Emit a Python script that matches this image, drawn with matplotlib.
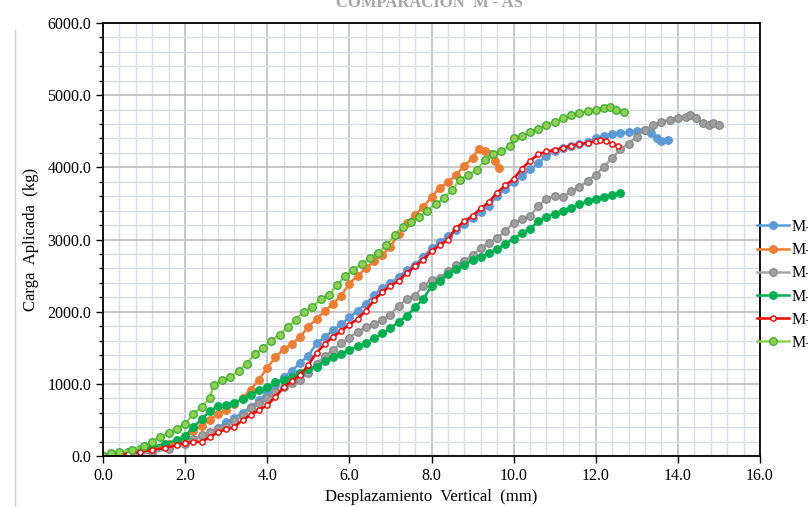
import matplotlib
matplotlib.use("Agg")
import matplotlib.pyplot as plt
from matplotlib.ticker import MultipleLocator, FormatStrFormatter
from matplotlib.lines import Line2D

plt.rcParams['font.family'] = ['Liberation Serif', 'DejaVu Serif']

# datos: desplazamiento (mm) y carga (kg)
m1_x = [0, 0.4, 0.8, 1.2, 1.6, 2.0, 2.4, 2.8, 3.0, 3.2, 3.4, 3.6, 3.8, 4.0, 4.2, 4.4, 4.6, 4.8, 5.0, 5.2,
        5.4, 5.6, 5.8, 6.0, 6.2, 6.4, 6.6, 6.8, 7.0, 7.2, 7.4, 7.6, 7.8, 8.0, 8.2, 8.4, 8.6, 8.8, 9.0, 9.2,
        9.4, 9.6, 9.8, 10.0, 10.2, 10.4, 10.6, 10.8, 11.0, 11.2, 11.4, 11.6, 11.8, 12.0, 12.2, 12.4, 12.6,
        12.8, 13.0, 13.2, 13.35, 13.5, 13.6, 13.75]
m1_y = [0, 10, 30, 70, 120, 190, 280, 390, 470, 530, 600, 680, 770, 880, 990, 1100, 1180, 1290, 1390, 1560,
        1650, 1740, 1830, 1920, 2010, 2110, 2230, 2330, 2400, 2480, 2580, 2650, 2760, 2880, 2960, 3050, 3130,
        3210, 3300, 3380, 3470, 3600, 3700, 3800, 3880, 3970, 4060, 4160, 4220, 4270, 4300, 4320, 4350, 4400,
        4430, 4460, 4480, 4490, 4500, 4520, 4480, 4400, 4360, 4380]

m2_x = [0, 0.4, 0.8, 1.2, 1.6, 2.0, 2.2, 2.4, 2.6, 2.8, 3.0, 3.2, 3.4, 3.6, 3.8, 4.0, 4.2, 4.4, 4.6, 4.8,
        5.0, 5.2, 5.4, 5.6, 5.8, 6.0, 6.2, 6.4, 6.6, 6.8, 7.0, 7.2, 7.4, 7.6, 7.8, 8.0, 8.2, 8.4, 8.6, 8.8,
        9.0, 9.15, 9.3, 9.45, 9.55, 9.65]
m2_y = [0, 10, 40, 90, 160, 270, 340, 420, 500, 580, 640, 720, 810, 920, 1060, 1220, 1370, 1480, 1550, 1650,
        1790, 1900, 2010, 2110, 2220, 2390, 2500, 2600, 2700, 2790, 2900, 3080, 3230, 3340, 3450, 3590, 3720,
        3790, 3900, 4020, 4130, 4260, 4230, 4180, 4090, 3990]

m3_x = [0, 0.4, 0.8, 1.2, 1.6, 2.0, 2.2, 2.4, 2.6, 2.8, 3.0, 3.2, 3.4, 3.6, 3.8, 4.0, 4.2, 4.4, 4.6, 4.8,
        5.0, 5.2, 5.4, 5.6, 5.8, 6.0, 6.2, 6.4, 6.6, 6.8, 7.0, 7.2, 7.4, 7.6, 7.8, 8.0, 8.2, 8.4, 8.6, 8.8,
        9.0, 9.2, 9.4, 9.6, 9.8, 10.0, 10.2, 10.4, 10.6, 10.8, 11.0, 11.2, 11.4, 11.6, 11.8, 12.0, 12.2, 12.4,
        12.6, 12.8, 13.0, 13.2, 13.4, 13.6, 13.8, 14.0, 14.2, 14.3, 14.45, 14.6, 14.75, 14.85, 15.0]
m3_y = [0, 5, 20, 50, 100, 170, 230, 290, 330, 370, 400, 480, 560, 660, 740, 800, 880, 950, 1010, 1060,
        1150, 1280, 1380, 1470, 1560, 1640, 1720, 1790, 1830, 1890, 1960, 2080, 2180, 2220, 2360, 2440, 2470,
        2560, 2640, 2700, 2790, 2880, 2950, 3020, 3120, 3230, 3280, 3320, 3470, 3560, 3600, 3590, 3670, 3730,
        3810, 3900, 4010, 4130, 4250, 4330, 4420, 4520, 4580, 4630, 4660, 4690, 4700, 4730, 4680, 4620, 4580,
        4620, 4590]

m4_x = [0, 0.3, 0.6, 0.9, 1.2, 1.5, 1.8, 2.0, 2.2, 2.4, 2.6, 2.8, 3.0, 3.2, 3.4, 3.6, 3.8, 4.0, 4.2, 4.4,
        4.6, 4.8, 5.0, 5.2, 5.4, 5.6, 5.8, 6.0, 6.2, 6.4, 6.6, 6.8, 7.0, 7.2, 7.4, 7.6, 7.8, 8.0, 8.2, 8.4,
        8.6, 8.8, 9.0, 9.2, 9.4, 9.6, 9.8, 10.0, 10.2, 10.4, 10.6, 10.8, 11.0, 11.2, 11.4, 11.6, 11.8, 12.0,
        12.2, 12.4, 12.6]
m4_y = [0, 20, 60, 100, 125, 170, 220, 280, 400, 510, 620, 690, 710, 740, 790, 850, 910, 960, 1020, 1050,
        1090, 1150, 1200, 1240, 1310, 1370, 1420, 1470, 1520, 1570, 1630, 1700, 1770, 1860, 1940, 2060, 2180,
        2350, 2430, 2520, 2590, 2650, 2710, 2760, 2810, 2870, 2940, 3010, 3090, 3140, 3260, 3310, 3360, 3400,
        3440, 3490, 3530, 3560, 3590, 3620, 3640]

m5_x = [0, 0.3, 0.6, 0.9, 1.2, 1.5, 1.8, 2.0, 2.2, 2.4, 2.6, 2.8, 3.0, 3.2, 3.4, 3.6, 3.8, 4.0, 4.2, 4.4,
        4.6, 4.8, 5.0, 5.2, 5.4, 5.6, 5.8, 6.0, 6.2, 6.4, 6.6, 6.8, 7.0, 7.2, 7.4, 7.6, 7.8, 8.0, 8.2, 8.4,
        8.6, 8.8, 9.0, 9.2, 9.4, 9.6, 9.8, 10.0, 10.2, 10.4, 10.6, 10.8, 11.0, 11.2, 11.4, 11.6, 11.8, 12.0,
        12.1, 12.25, 12.4, 12.55]
m5_y = [0, 10, 30, 55, 85, 110, 150, 180, 190, 200, 260, 330, 370, 400, 500, 570, 640, 700, 820, 950,
        1040, 1120, 1260, 1430, 1550, 1650, 1730, 1820, 1900, 2010, 2160, 2270, 2360, 2430, 2540, 2630, 2720,
        2840, 2920, 3000, 3160, 3250, 3330, 3430, 3520, 3650, 3750, 3840, 3980, 4090, 4180, 4220, 4240, 4270,
        4300, 4320, 4340, 4360, 4380, 4360, 4330, 4300]

m6_x = [0, 0.2, 0.4, 0.7, 1.0, 1.2, 1.4, 1.6, 1.8, 2.0, 2.2, 2.4, 2.6, 2.7, 2.9, 3.1, 3.3, 3.5, 3.7, 3.9,
        4.1, 4.3, 4.5, 4.7, 4.9, 5.1, 5.3, 5.5, 5.7, 5.9, 6.1, 6.3, 6.5, 6.7, 6.9, 7.1, 7.3, 7.5, 7.7, 7.9,
        8.1, 8.3, 8.5, 8.7, 8.9, 9.1, 9.3, 9.5, 9.7, 9.9, 10.0, 10.2, 10.4, 10.6, 10.8, 11.0, 11.2, 11.4,
        11.6, 11.8, 12.0, 12.2, 12.35, 12.5, 12.7]
m6_y = [0, 40, 60, 80, 140, 200, 270, 320, 380, 450, 580, 680, 800, 990, 1050, 1100, 1180, 1280, 1410, 1500,
        1600, 1680, 1790, 1890, 2000, 2070, 2170, 2230, 2370, 2490, 2580, 2660, 2740, 2810, 2920, 3060, 3170,
        3240, 3310, 3400, 3490, 3570, 3690, 3830, 3900, 3960, 4100, 4180, 4220, 4300, 4400, 4440, 4490, 4530,
        4590, 4630, 4680, 4720, 4750, 4780, 4800, 4820, 4830, 4800, 4760]

series = [
    ("M-1", m1_x, m1_y, "#5b9bd5", "#5b9bd5", "#5b9bd5", 5.4),
    ("M-2", m2_x, m2_y, "#ed7d31", "#ed7d31", "#ed7d31", 5.4),
    ("M-3", m3_x, m3_y, "#a5a5a5", "#a0a0a0", "#8a8a8a", 5.4),
    ("M-4", m4_x, m4_y, "#00b050", "#00b050", "#00b050", 5.4),
    ("M-5", m5_x, m5_y, "#ff0000", "white", "#ff0000", 3.8),
    ("M-6", m6_x, m6_y, "#92d050", "#92d050", "#3fae3a", 5.4),
]

fig = plt.figure(figsize=(8.08, 5.07), dpi=100)
ax = fig.add_axes([103 / 808, 51 / 507, 657 / 808, 433 / 507])

for name, xs, ys, lc, fc, ec, ms in series:
    ax.plot(xs, ys, color=lc, lw=1.8, marker='o', ms=ms, mfc=fc, mec=ec, mew=1.0, label=name)

ax.set_xlim(0, 16)
ax.set_ylim(0, 6000)
ax.xaxis.set_major_locator(MultipleLocator(2))
ax.xaxis.set_minor_locator(MultipleLocator(0.4))
ax.yaxis.set_major_locator(MultipleLocator(1000))
ax.yaxis.set_minor_locator(MultipleLocator(200))
ax.xaxis.set_major_formatter(FormatStrFormatter('%.1f'))
ax.yaxis.set_major_formatter(FormatStrFormatter('%.1f'))

ax.grid(which='minor', color='#d9dde8', lw=1.0)
ax.grid(which='major', color='#bdbdbd', lw=1.2)
ax.set_axisbelow(True)

for s in ax.spines.values():
    s.set_color('black')
    s.set_linewidth(1.3)

ax.tick_params(which='major', direction='out', length=5, width=1, labelsize=11.5, colors='black')
ax.tick_params(axis='y', which='minor', direction='out', length=3, width=1)
ax.tick_params(axis='x', which='minor', length=0)

ax.set_xlabel('Desplazamiento  Vertical  (mm)', fontsize=12, labelpad=4)
ax.set_ylabel('Carga  Aplicada  (kg)', fontsize=12, labelpad=6)

# titulo cortado arriba
fig.text(430 / 808, 1 - 7 / 507, 'COMPARACIÓN  M - AS', ha='center', va='baseline',
         fontsize=12, color='#a6a6a6', fontweight='bold')

# borde del area del grafico
fig.add_artist(Line2D([15 / 808, 15 / 808], [0, 1 - 30 / 507], color='#d0d0d0', lw=1))

fig.legend(loc='upper left', bbox_to_anchor=(757 / 808, 1 - 219 / 507), frameon=False,
           fontsize=11.5, handlelength=2.0, handletextpad=0.15, labelspacing=0.45,
           borderpad=0, borderaxespad=0)

fig.savefig('out.png', dpi=100)
